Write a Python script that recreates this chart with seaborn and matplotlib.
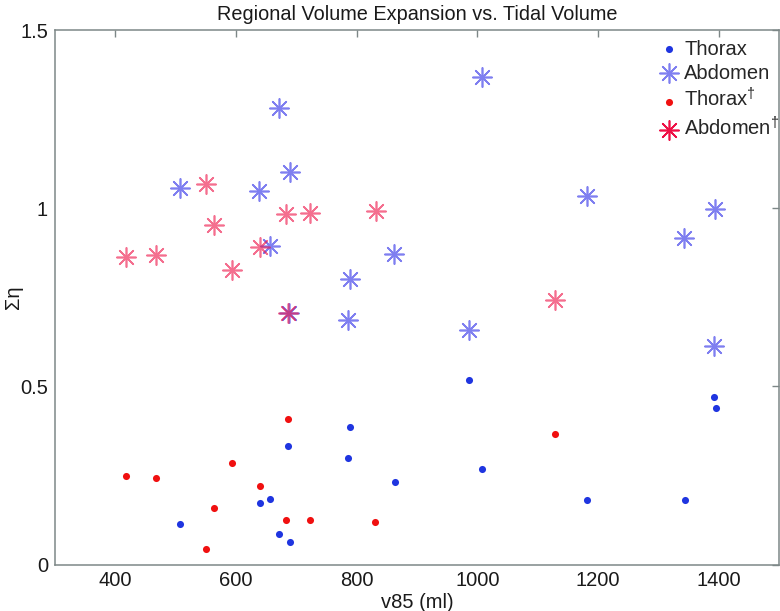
import matplotlib
matplotlib.use("Agg")
import matplotlib.pyplot as plt
import seaborn as sns
import pandas as pd

# ---- data ----
thorax_x = [508, 639, 656, 671, 686, 690, 786, 789, 863, 986, 1008, 1182, 1344, 1393, 1395]
thorax_y = [0.114, 0.173, 0.184, 0.085, 0.333, 0.063, 0.300, 0.387, 0.232, 0.517, 0.269, 0.181, 0.181, 0.469, 0.439]

abdomen_x = [508, 638, 656, 671, 689, 688, 786, 789, 862, 987, 1007, 1181, 1343, 1392, 1394]
abdomen_y = [1.056, 1.048, 0.895, 1.281, 1.101, 0.705, 0.685, 0.802, 0.870, 0.657, 1.368, 1.033, 0.916, 0.613, 0.999]

thorax_d_x = [418, 468, 550, 564, 593, 640, 683, 686, 723, 831, 1129]
thorax_d_y = [0.249, 0.243, 0.044, 0.159, 0.284, 0.220, 0.126, 0.407, 0.124, 0.118, 0.366]

abdomen_d_x = [418, 467, 550, 564, 594, 639, 683, 686, 722, 832, 1129]
abdomen_d_y = [0.862, 0.869, 1.068, 0.952, 0.827, 0.890, 0.983, 0.705, 0.986, 0.992, 0.743]

labels = ["Thorax", "Abdomen", "Thorax$^{\\dagger}$", "Abdomen$^{\\dagger}$"]
xticks = [400, 600, 800, 1000, 1200, 1400]
yticks = [0, 0.5, 1, 1.5]
ytick_labels = ["0", "0.5", "1", "1.5"]

sns.set_style("white")
plt.rcParams["font.family"] = ["Liberation Sans", "DejaVu Sans"]
plt.rcParams["mathtext.fontset"] = "custom"
plt.rcParams["mathtext.rm"] = "Liberation Sans"
plt.rcParams["mathtext.it"] = "Liberation Sans"

fig = plt.figure(figsize=(7.8, 6.11), dpi=100)
ax = fig.add_axes([55 / 780, (611 - 564.5) / 611, 724 / 780, 534.5 / 611])

spine_col = "#7d8787"
star = (8, 2, 0)

df_t = pd.DataFrame({"x": thorax_x, "y": thorax_y})
df_a = pd.DataFrame({"x": abdomen_x, "y": abdomen_y})
df_td = pd.DataFrame({"x": thorax_d_x, "y": thorax_d_y})
df_ad = pd.DataFrame({"x": abdomen_d_x, "y": abdomen_d_y})

sns.scatterplot(data=df_t, x="x", y="y", ax=ax, color="#1f35e0", marker="o",
                s=26, linewidth=0, label=labels[0], zorder=3)
sns.scatterplot(data=df_a, x="x", y="y", ax=ax, color="#2a2ae6", marker=star,
                s=190, linewidth=1.2, alpha=0.6, label=labels[1], zorder=3)
sns.scatterplot(data=df_td, x="x", y="y", ax=ax, color="#f01010", marker="o",
                s=26, linewidth=0, label=labels[2], zorder=4)
sns.scatterplot(data=df_ad, x="x", y="y", ax=ax, color="#ee1045", marker=star,
                s=190, linewidth=1.2, alpha=0.6, label=labels[3], zorder=4)

ax.set_xlim(300, 1500)
ax.set_ylim(0, 1.5)
ax.set_xticks(xticks)
ax.set_yticks(yticks)
ax.set_yticklabels(ytick_labels)
ax.tick_params(direction="in", length=5, width=1, color=spine_col,
               top=True, right=True, labelsize=14.5, labelcolor="#1a1a1a", pad=5)
for sp in ax.spines.values():
    sp.set_color(spine_col)
    sp.set_linewidth(1.1)

ax.set_xlabel("v85 (ml)", fontsize=14.5, color="#1a1a1a", labelpad=2)
ax.set_ylabel("Ση", fontsize=14.5, color="#1a1a1a")
ax.yaxis.set_label_coords(-0.044, 0.5)
ax.set_title("Regional Volume Expansion vs. Tidal Volume", fontsize=14.3,
             color="#1a1a1a", pad=7)

leg = ax.legend(loc="upper right", frameon=False, fontsize=14.5,
                handletextpad=0.15, borderaxespad=0.0, labelspacing=0.25,
                handlelength=1.2, bbox_to_anchor=(1.012, 0.997))
for h in leg.legend_handles:
    h.set_alpha(None)
leg.legend_handles[1].set_alpha(0.6)

fig.savefig("out.png", dpi=100)
